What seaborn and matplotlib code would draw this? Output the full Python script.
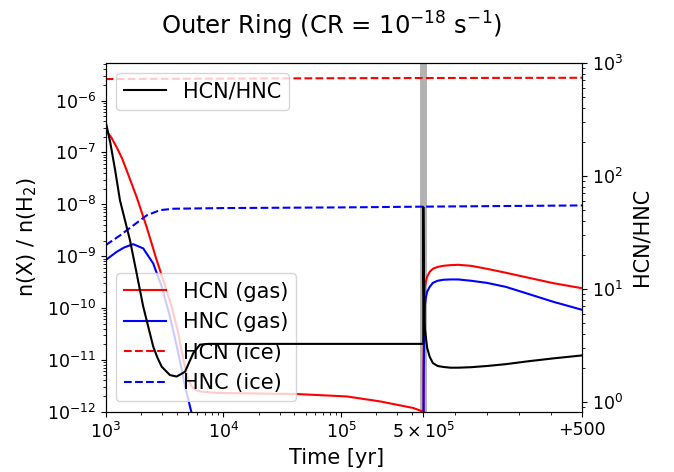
import numpy as np
import matplotlib
matplotlib.use("Agg")
import matplotlib.pyplot as plt
from matplotlib.ticker import FixedLocator, FixedFormatter, NullFormatter
import seaborn as sns

# ---------------- data ----------------
T_SWITCH = 5e5          # end of first phase [yr]
POST_SPAN = 500         # length of second phase shown [yr]

# phase 1 (log-time part)
t1_hcn_gas = [1000, 1122, 1239, 1380, 1507, 1832, 2228, 2710, 3083, 3639, 4140, 4416, 4721,
              5047, 5383, 5741, 6324, 8770, 42000, 111700, 214300, 410200, 500000]
hcn_gas_1 = [2.75e-7, 1.9e-7, 1.26e-7, 7.6e-8, 4.5e-8, 1.38e-8, 3.65e-9, 8.4e-10, 3.46e-10,
             1.06e-10, 3.27e-11, 1.45e-11, 7.4e-12, 4.1e-12, 3.1e-12, 2.65e-12, 2.46e-12,
             2.3e-12, 2.19e-12, 1.97e-12, 1.58e-12, 1.18e-12, 1.0e-12]

t1_hnc_gas = [1000, 1239, 1445, 1714, 2084, 2535, 2992, 3516, 4140, 4721, 5546,
              6500, 10000, 100000, 500000]
hnc_gas_1 = [8.4e-10, 1.21e-9, 1.48e-9, 1.7e-9, 1.41e-9, 7.2e-10, 2.57e-10, 6.8e-11,
             1.35e-11, 3.1e-12, 7e-13, 4e-13, 6e-13, 5e-13, 4e-13]

t1_hcn_ice = [1000, 10000, 100000, 500000]
hcn_ice_1 = [2.6e-6, 2.65e-6, 2.7e-6, 2.72e-6]

t1_hnc_ice = [1000, 1321, 1714, 2228, 2891, 3750, 10000, 100000, 500000]
hnc_ice_1 = [1.63e-9, 2.5e-9, 3.9e-9, 6.1e-9, 7.7e-9, 8.2e-9, 8.45e-9, 8.7e-9, 9.0e-9]

t1_ratio = [1000, 1096, 1202, 1321, 1607, 1832, 2084, 2535, 2754, 2992, 3516, 4009,
            4721, 5546, 6324, 7500, 10000, 100000, 500000]
ratio_1 = [302, 195, 113, 61, 27, 13.7, 6.95, 3.07, 2.45, 2.04, 1.72, 1.67, 1.84,
           2.69, 3.2, 3.25, 3.25, 3.25, 3.25]

# phase 2 (years after T_SWITCH, linear part)
dt2 = [0, 1, 3, 5, 8, 12, 20, 30, 45, 63, 85, 110, 150, 200, 260, 330, 410, 500]
hcn_gas_2 = [1e-14, 1e-11, 1.3e-10, 2.55e-10, 3.19e-10, 3.99e-10, 4.98e-10, 5.7e-10,
             6.2e-10, 6.5e-10, 6.7e-10, 6.8e-10, 6.5e-10, 5.7e-10, 4.77e-10, 3.84e-10,
             3.0e-10, 2.4e-10]
hnc_gas_2 = [1e-14, 5e-12, 4e-11, 1.15e-10, 1.57e-10, 2.05e-10, 2.55e-10, 3.05e-10,
             3.35e-10, 3.5e-10, 3.55e-10, 3.55e-10, 3.35e-10, 3.05e-10, 2.55e-10,
             1.87e-10, 1.31e-10, 9.2e-11]
ratio_2 = [53, 15, 6, 4.4, 3.75, 3.0, 2.5, 2.2, 2.07, 2.03, 2.0, 2.0, 2.02, 2.07,
           2.15, 2.28, 2.42, 2.57]
dt2_ice = [0, 500]
hcn_ice_2 = [2.72e-6, 2.75e-6]
hnc_ice_2 = [9.0e-9, 9.5e-9]

x_tick_vals = [1e3, 1e4, 1e5, T_SWITCH, T_SWITCH + POST_SPAN]
x_tick_labels = [r"$10^3$", r"$10^4$", r"$10^5$", r"$5\times10^5$", "+500"]

# ---------------- composite time axis ----------------
POST_DECADES = 1.351
L0 = np.log10(T_SWITCH)


def fwd(t):
    t = np.asarray(t, dtype=float)
    with np.errstate(all="ignore"):
        lg = np.log10(np.where(t > 0, t, 1e-300))
        return np.where(t <= T_SWITCH, lg, L0 + (t - T_SWITCH) / POST_SPAN * POST_DECADES)


def inv(u):
    u = np.asarray(u, dtype=float)
    with np.errstate(all="ignore"):
        return np.where(u <= L0, 10 ** np.minimum(u, L0),
                        T_SWITCH + (u - L0) / POST_DECADES * POST_SPAN)


def join(t1, y1, dt, y2):
    t = np.concatenate([np.asarray(t1, float), T_SWITCH + np.asarray(dt, float)])
    y = np.concatenate([np.asarray(y1, float), np.asarray(y2, float)])
    return t, y


W, H = 674, 472
fig = plt.figure(figsize=(W / 100, H / 100), dpi=100)
ax = fig.add_axes([105.7 / W, 1 - 411.7 / H, (582.3 - 105.7) / W, (411.7 - 63) / H])
ax.set_xscale("function", functions=(fwd, inv))
ax.set_yscale("log")
ax2 = ax.twinx()
ax2.set_yscale("log")

ax.axvline(T_SWITCH, color="gray", alpha=0.6, lw=5, zorder=0)

lw = 1.5
series = [
    (t1_hcn_gas, hcn_gas_1, dt2, hcn_gas_2, "red", "-", "HCN (gas)"),
    (t1_hnc_gas, hnc_gas_1, dt2, hnc_gas_2, "blue", "-", "HNC (gas)"),
    (t1_hcn_ice, hcn_ice_1, dt2_ice, hcn_ice_2, "red", "--", "HCN (ice)"),
    (t1_hnc_ice, hnc_ice_1, dt2_ice, hnc_ice_2, "blue", "--", "HNC (ice)"),
]
for t1, y1, dt, y2, col, ls, lab in series:
    t, y = join(t1, y1, dt, y2)
    sns.lineplot(x=t, y=y, ax=ax, color=col, linestyle=ls, lw=lw, label=lab,
                 sort=False, estimator=None, legend=False)

t, y = join(t1_ratio, ratio_1, dt2, ratio_2)
sns.lineplot(x=t, y=y, ax=ax2, color="black", lw=lw, label="HCN/HNC",
             sort=False, estimator=None, legend=False)

ax.set_xlim(1e3, T_SWITCH + POST_SPAN)
ax.set_ylim(1e-12, 5.3e-6)
ax2.set_ylim(0.815, 1000)

minor = [m * 10 ** e for e in (3, 4) for m in range(2, 10)] + [2e5, 3e5, 4e5] + \
        [T_SWITCH + d for d in (100, 200, 300, 400)]
ax.xaxis.set_major_locator(FixedLocator(x_tick_vals))
ax.xaxis.set_major_formatter(FixedFormatter(x_tick_labels))
ax.xaxis.set_minor_locator(FixedLocator(minor))
ax.xaxis.set_minor_formatter(NullFormatter())

ax.tick_params(labelsize=12.5)
ax2.tick_params(labelsize=12.5)

ax.set_xlabel("")
ax.set_ylabel(r"n(X) / n(H$_2$)", fontsize=15, labelpad=6)
ax2.set_ylabel("HCN/HNC", fontsize=15, labelpad=6)

fig.text(336.5 / W, 1 - 464 / H, "Time [yr]", ha="center", va="baseline", fontsize=15)

ax.legend(loc="lower left", fontsize=15)
ax2.legend(loc="upper left", fontsize=15)

fig.text(331 / W, 1 - 35 / H, r"Outer Ring (CR = $10^{-18}$ s$^{-1}$)",
         ha="center", va="baseline", fontsize=17.5)

fig.savefig("out.png", dpi=100)
